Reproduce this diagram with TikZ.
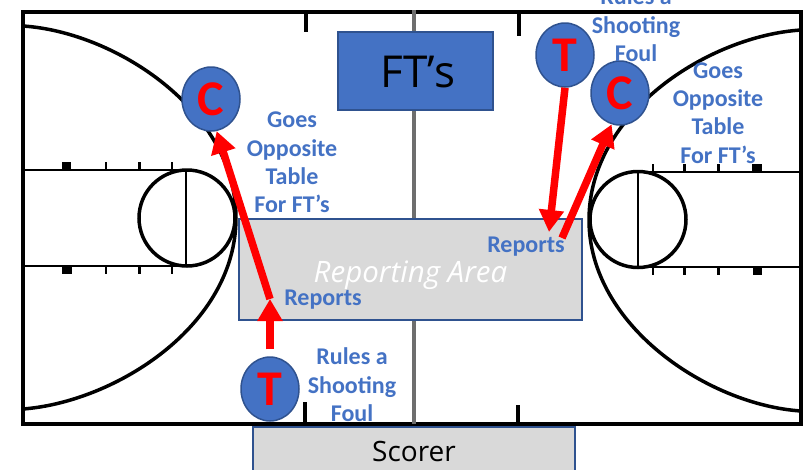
\documentclass[tikz,border=0pt]{standalone}
\usepackage{fontspec}
\setmainfont{Open Sans}
\newfontfamily\calfont{Carlito}
\usetikzlibrary{arrows.meta,shapes.geometric}
\definecolor{offblue}{HTML}{4472C4}
\definecolor{edgeblue}{HTML}{2F528F}
\definecolor{areagray}{HTML}{D9D9D9}
\definecolor{midgray}{HTML}{6E6E6E}
\begin{document}
\begin{tikzpicture}[
    x=1pt,y=-1pt,
    line/.style={black,line width=3.5pt},
    thin line/.style={black,line width=2.5pt},
    official/.style={ellipse,fill=offblue,draw=edgeblue,line width=1.5pt,inner sep=0,minimum width=58pt,minimum height=64pt,text=red,font=\calfont\bfseries\fontsize{50}{50}\selectfont},
    area/.style={rectangle,fill=areagray,draw=edgeblue,line width=2pt,inner sep=0},
    note/.style={text=offblue,align=center,inner sep=0,font=\calfont\bfseries\fontsize{24}{28.4}\selectfont},
    flow/.style={-{Triangle[length=22pt,width=24pt]},red,line width=7.5pt}
    ]
    \useasboundingbox (0,0) rectangle (808,469);

    % court
    \draw [black,line width=4pt] (23,12) rectangle (801,424);
    \draw [midgray,line width=4pt] (414,10) -- (414,424);
    \draw [black,line width=4pt] (306,12) -- (306,32);
    \draw [black,line width=4pt] (519,12) -- (519,36);
    \draw [black,line width=4pt] (305,424) -- (305,402);
    \draw [black,line width=4pt] (518,424) -- (518,405);

    % left end
    \draw [thin line] (23,170) -- (187,170);
    \draw [thin line] (23,266) -- (187,266);
    \draw [line] (187,218) circle (48);
    \draw [thin line] (186,170) -- (186,266);
    \draw [line] (23,26) .. controls (115,32) and (236,110) .. (236,218)
      .. controls (236,326) and (115,402) .. (23,409);
    \foreach \x in {106,139.5,172} {
      \draw [thin line] (\x,162) -- (\x,170);
      \draw [thin line] (\x,266) -- (\x,274);
    }
    \fill [black] (62,162) rectangle (71,170);
    \fill [black] (62,266) rectangle (72,274);

    % right end
    \draw [thin line] (638,172) -- (801,172);
    \draw [thin line] (638,267) -- (801,267);
    \draw [line] (638,219.5) circle (48);
    \draw [thin line] (638,172) -- (638,267);
    \draw [line] (801,30) .. controls (709,36) and (589,112) .. (589,220)
      .. controls (589,326) and (709,405) .. (801,411);
    \foreach \x in {653,684.5,718.5} {
      \draw [thin line] (\x,164) -- (\x,172);
      \draw [thin line] (\x,267) -- (\x,275);
    }
    \fill [black] (752,164) rectangle (762,172);
    \fill [black] (753,267) rectangle (762,275);

    % boxes
    \node[area,fill=offblue,minimum width=155pt,minimum height=78pt,font=\fontsize{44}{44}\selectfont,text height=34pt] (ft) at (415,71) {\hspace*{6pt}FT’s};
    \node[area,minimum width=343pt,minimum height=101pt,text=white,font=\itshape\fontsize{29.5}{29.5}\selectfont,text height=32pt,text depth=7pt] (report) at (410.5,269.5) {Reporting Area};
    \node[area,minimum width=322pt,minimum height=54pt,font=\fontsize{28}{28}\selectfont,text height=22pt,text depth=7pt] (scorer) at (414,454) {Scorer};

    % officials
    \node[official] (T1) at (270,389) {T};
    \node[official] (C1) at (211,99) {C};
    \node[official] (T2) at (565,55) {T};
    \node[official] (C2) at (620,93) {C};

    % report points
    \coordinate (repL) at (270,299);
    \coordinate (repA) at (549,232);
    \coordinate (repB) at (562,238);

    % moves
    \draw [flow,shorten <=7pt] (T1.north) -- (repL);
    \draw [flow] (repL) -- (C1.-80);
    \draw [flow] (T2.south) -- (repA);
    \draw [flow] (repB) -- (C2.-105);

    % notes
    \node[note] (goesL) at (292,162.5) {Goes\\Opposite\\Table\\For FT’s};
    \node[note] (goesR) at (718,113) {Goes\\Opposite\\Table\\For FT’s};
    \node[note] (ruleL) at (352,385) {Rules a\\Shooting\\Foul};
    \node[note] (ruleR) at (636,25) {Rules a\\Shooting\\Foul};
    \node[note] (repNoteL) at (323,300) {Reports};
    \node[note] (repNoteR) at (526,247) {Reports};
  \end{tikzpicture}
\end{document}
